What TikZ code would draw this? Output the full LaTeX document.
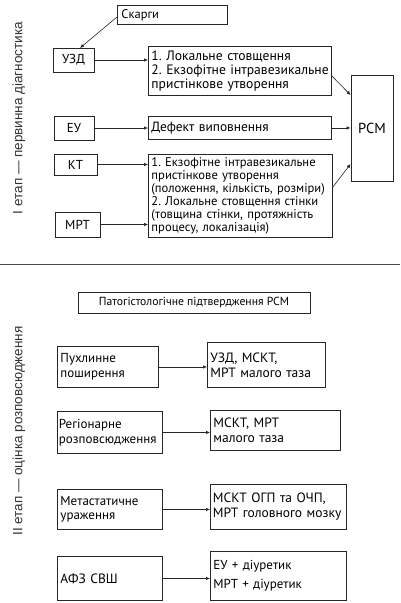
\documentclass[tikz,border=0pt]{standalone}
\usepackage{fontspec}
\setmainfont{PT Sans}
\newfontfamily\labelfont{Liberation Sans}
\usetikzlibrary{arrows.meta}
\tikzset{
  box/.style={draw=black!85, line width=0.9pt, anchor=north west, inner xsep=3pt, inner ysep=1pt, font=\frenchspacing\fontsize{13}{13}\selectfont, align=left},
  cbox/.style={draw=black!85, line width=0.9pt, anchor=center, inner sep=0pt, font=\frenchspacing\fontsize{13}{13}\selectfont, align=center},
  arr/.style={draw=black!85, line width=0.6pt, -{Latex[length=4pt,width=3.5pt]}},
  stagelabel/.style={rotate=90, font=\labelfont\fontsize{13.5}{15}\selectfont, text=black!80},
  lft/.style={font=\frenchspacing\fontsize{13}{14.5}\selectfont},
  rgt/.style={font=\frenchspacing\fontsize{13.5}{15}\selectfont},
}
\newcommand{\oneline}[1]{\mbox{#1}}
\begin{document}
\frenchspacing
\begin{tikzpicture}[x=1pt,y=-1pt]
\useasboundingbox (0,0) rectangle (400,603);
% Stage I
\node[box, text width=102pt, minimum height=19pt, font=\fontsize{12.5}{13}\selectfont, inner xsep=4pt] (skargi) at (117,5) {Скарги};
\node[cbox, minimum width=41pt, minimum height=24pt] (uzd) at (73.5,60) {УЗД};
\node[box, text width=177pt, minimum height=49pt, font=\frenchspacing\fontsize{13.6}{14}\selectfont] (b1) at (148,46) {\oneline{1. Локальне стовщення}\\\oneline{2. Екзофітне інтравезикальне}\\\oneline{пристінкове утворення}};
\node[cbox, minimum width=40pt, minimum height=24pt] (eu) at (74,128) {ЕУ};
\node[box, text width=177pt, minimum height=23pt, font=\frenchspacing\fontsize{13.4}{14}\selectfont] (def) at (148,116) {Дефект виповнення};
\node[cbox, minimum width=42pt, minimum height=106pt, font=\fontsize{14.5}{15}\selectfont] (rsm) at (372,128) {РСМ};
\node[cbox, minimum width=43pt, minimum height=21pt] (kt) at (75.5,164.5) {КТ};
\node[cbox, minimum width=45pt, minimum height=25pt] (mrt) at (77.5,224.5) {МРТ};
\node[box, text width=178pt, minimum height=83pt, font=\frenchspacing\fontsize{12.6}{13}\selectfont] (b2) at (148,154) {\oneline{1. Екзофітне інтравезикальне}\\\oneline{пристінкове утворення}\\\oneline{(положення, кількість, розміри)}\\\oneline{2. Локальне стовщення стінки}\\\oneline{(товщина стінки, протяжність}\\\oneline{процесу, локалізація)}};
\coordinate (sk) at (117,17);
\draw[arr] (skargi.west |- sk) -- (80,48);
\draw[arr] (uzd.east) -- (uzd.east -| b1.west);
\draw[arr] (eu.east) -- (eu.east -| def.west);
\draw[arr] (kt.east) -- (kt.east -| b2.west);
\draw[arr] (mrt.east) -- (mrt.east -| b2.west);
\draw[arr] (b1.east |- 0,76) -- (rsm.west |- 0,95);
\draw[arr] (def.east) -- (def.east -| rsm.west);
\draw[arr] (b2.east |- 0,187) -- (rsm.west |- 0,164);
\node[stagelabel] (l1) at (19,118) {I етап — первинна діагностика};
% separator
\coordinate (sepl) at (0,264.5);
\coordinate (sepr) at (400,264.5);
\draw[black!70, line width=1.6pt] (sepl) -- (sepr);
% Stage II
\node[cbox, minimum width=232pt, minimum height=21pt, font=\fontsize{11.7}{13}\selectfont] (pat) at (194,302.5) {Патогістологічне підтвердження РСМ};
\node[box, lft, text width=95pt, minimum height=41pt] (p1) at (57,346) {Пухлинне\\поширення};
\node[box, rgt, text width=112pt, minimum height=45pt] (r1) at (207,342) {УЗД, МСКТ,\\МРТ малого таза};
\node[box, lft, text width=102pt, minimum height=42pt, inner xsep=1.5pt] (p2) at (57,411) {Регіонарне\\розповсюдження};
\node[box, rgt, text width=124pt, minimum height=40pt] (r2) at (210,410) {МСКТ, МРТ\\малого таза};
\node[box, lft, text width=99pt, minimum height=40pt] (p3) at (57,489) {Метастатичне\\ураження};
\node[box, rgt, text width=131pt, minimum height=45pt, inner xsep=2.5pt] (r3) at (210,484) {МСКТ ОГП та ОЧП,\\\oneline{МРТ головного мозку}};
\node[box, rgt, text width=99pt, minimum height=44pt] (p4) at (57,556) {АФЗ СВШ};
\node[box, text width=130pt, minimum height=49pt, font=\fontsize{13}{14}\selectfont] (r4) at (210,551) {ЕУ + діуретик\\[5pt]МРТ + діуретик};
\draw[arr] (p1.east) -- (p1.east -| r1.west);
\draw[arr] (p2.east) -- (p2.east -| r2.west);
\draw[arr] (p3.east) -- (p3.east -| r3.west);
\draw[arr] (p4.east) -- (p4.east -| r4.west);
\node[stagelabel] (l2) at (19,431) {II етап — оцінка розповсюдження};
\end{tikzpicture}
\end{document}
